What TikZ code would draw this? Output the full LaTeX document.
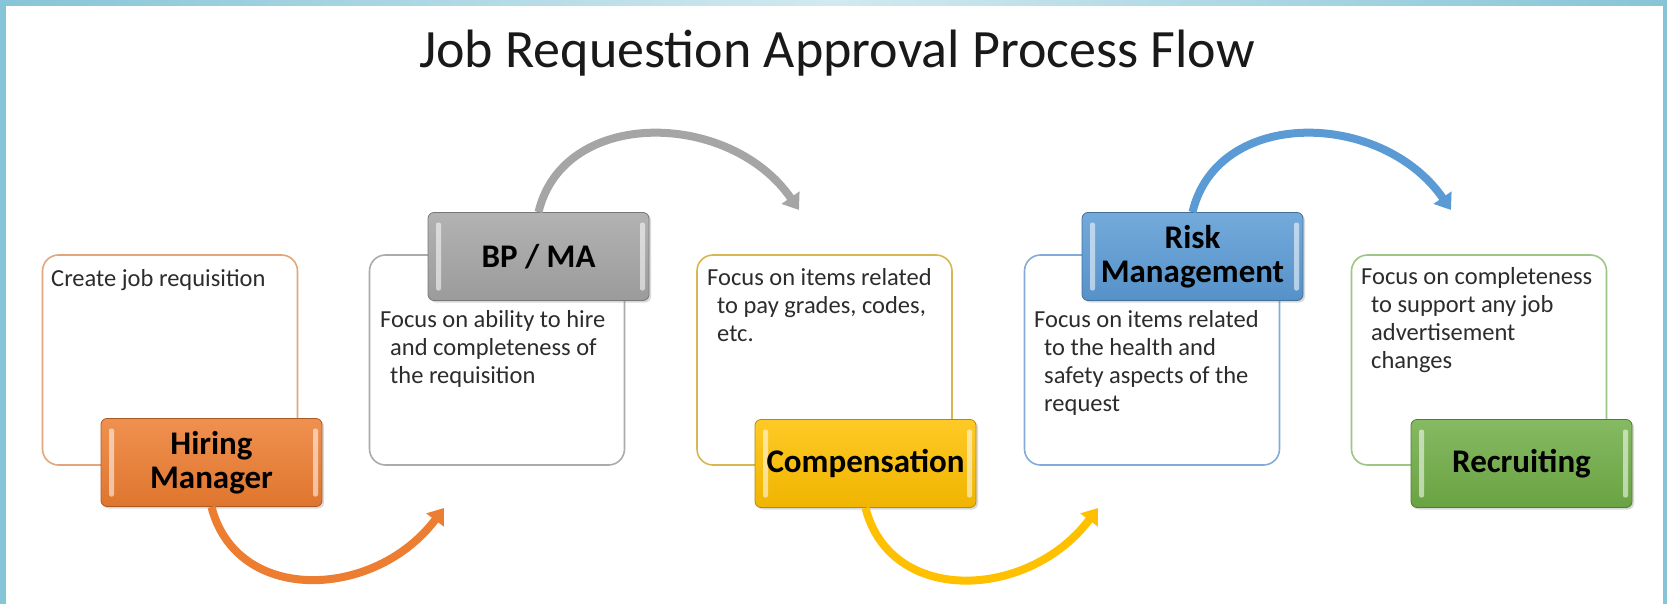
\documentclass[tikz,border=0pt]{standalone}
\usepackage{fontspec}
\setmainfont{Carlito}
\usetikzlibrary{arrows.meta,shadows}

\definecolor{frameteal}{HTML}{86C5D7}
\definecolor{framelight}{HTML}{D2E9F0}
\definecolor{hmorange}{HTML}{ED7D31}
\definecolor{bpgray}{HTML}{A5A5A5}
\definecolor{compgold}{HTML}{FFC000}
\definecolor{riskblue}{HTML}{5B9BD5}
\definecolor{recgreen}{HTML}{70AD47}
\definecolor{hmline}{HTML}{E3A57C}
\definecolor{bpline}{HTML}{ABABAB}
\definecolor{compline}{HTML}{D8B750}
\definecolor{riskline}{HTML}{82ABD8}
\definecolor{recline}{HTML}{9DC684}
\definecolor{notegray}{HTML}{2C2C2C}

\newcommand\titlefont{\fontsize{54}{60}\selectfont}
\newcommand\tagfont{\bfseries\fontsize{33}{34}\selectfont}
\newcommand\notefont{\fontsize{24.5}{28}\selectfont}
\newcommand\indline{\hspace*{10pt}}

\tikzset{
  infobox/.style={draw=#1, line width=1.6pt, rounded corners=16pt, fill=white,
    minimum width=255pt, minimum height=210pt},
  tagbox/.style={rounded corners=6pt, minimum width=221pt, minimum height=88pt,
    top color=#1!85!white, bottom color=#1!94!black, draw=#1!72!black, line width=.8pt,
    drop shadow={shadow xshift=2pt, shadow yshift=-2pt, opacity=.3},
    font=\tagfont, align=center, inner sep=2pt,
    path picture={
      \fill[white, opacity=.55, rounded corners=2pt]
        ([shift={(8pt,-10pt)}]path picture bounding box.north west) rectangle
        ([shift={(13pt,10pt)}]path picture bounding box.south west);
      \fill[white, opacity=.55, rounded corners=2pt]
        ([shift={(-9pt,-10pt)}]path picture bounding box.north east) rectangle
        ([shift={(-4pt,10pt)}]path picture bounding box.south east);
    }},
  note/.style={anchor=north west, align=left, inner sep=0pt, font=\notefont,
    text=notegray, execute at begin node=\strut},
  flow/.style={draw=#1, line width=8pt, -{Triangle[length=15pt,width=21pt]}},
}

\begin{document}
\begin{tikzpicture}[x=1pt, y=-1pt]
  \useasboundingbox (0,0) rectangle (1667,604);
  % frame
  \fill[left color=frameteal, right color=frameteal, middle color=framelight] (0,0) rectangle (1667,6);
  \fill[frameteal] (0,0) rectangle (6,604);
  \fill[frameteal] (1663,0) rectangle (1667,604);

  \node[anchor=base, font=\titlefont, text=black!90] (title) at (837,68)
    {Job Requestion Approval Process Flow};

  % step boxes
  \node[infobox=hmline]   (hmbox)   at (170,360) {};
  \node[infobox=bpline]   (bpbox)   at (497,360) {};
  \node[infobox=compline] (compbox) at (824.5,360) {};
  \node[infobox=riskline] (riskbox) at (1152,360) {};
  \node[infobox=recline]  (recbox)  at (1479,360) {};

  \node[note] (hmnote)   at (51,267)   {Create job requisition};
  \node[note] (bpnote)   at (380,310)  {Focus on ability to hire\\
    \indline and completeness of\\ \indline the requisition};
  \node[note] (compnote) at (707,268)  {Focus on items related\\
    \indline to pay grades, codes,\\ \indline etc.};
  \node[note] (risknote) at (1034,310) {Focus on items related\\
    \indline to the health and\\ \indline safety aspects of the\\ \indline request};
  \node[note] (recnote)  at (1361,267) {Focus on completeness\\
    \indline to support any job\\ \indline advertisement\\ \indline changes};

  % role tags
  \node[tagbox=hmorange] (hm)   at (211.5,462.5)  {Hiring\\Manager};
  \node[tagbox=bpgray]   (bp)   at (538.5,256.5)  {BP / MA};
  \node[tagbox=compgold] (comp) at (865.5,463.5)  {Compensation};
  \node[tagbox=riskblue] (risk) at (1192.5,256.5) {Risk\\Management};
  \node[tagbox=recgreen] (rec)  at (1521.5,463.5) {Recruiting};

  % hand-over arrows
  \coordinate (hmend)   at (444,508);
  \coordinate (bpend)   at (799,210);
  \coordinate (compend) at (1098,508);
  \coordinate (riskend) at (1451,210);
  \draw[flow=hmorange] (hm.south) .. controls +(25,98) and +(-69,92) .. (hmend);
  \draw[flow=bpgray] (bp.north) .. controls +(25,-105) and +(-69,-100) .. (bpend);
  \draw[flow=compgold] (comp.south) .. controls +(25,98) and +(-69,92) .. (compend);
  \draw[flow=riskblue] (risk.north) .. controls +(25,-105) and +(-69,-100) .. (riskend);
\end{tikzpicture}
\end{document}
